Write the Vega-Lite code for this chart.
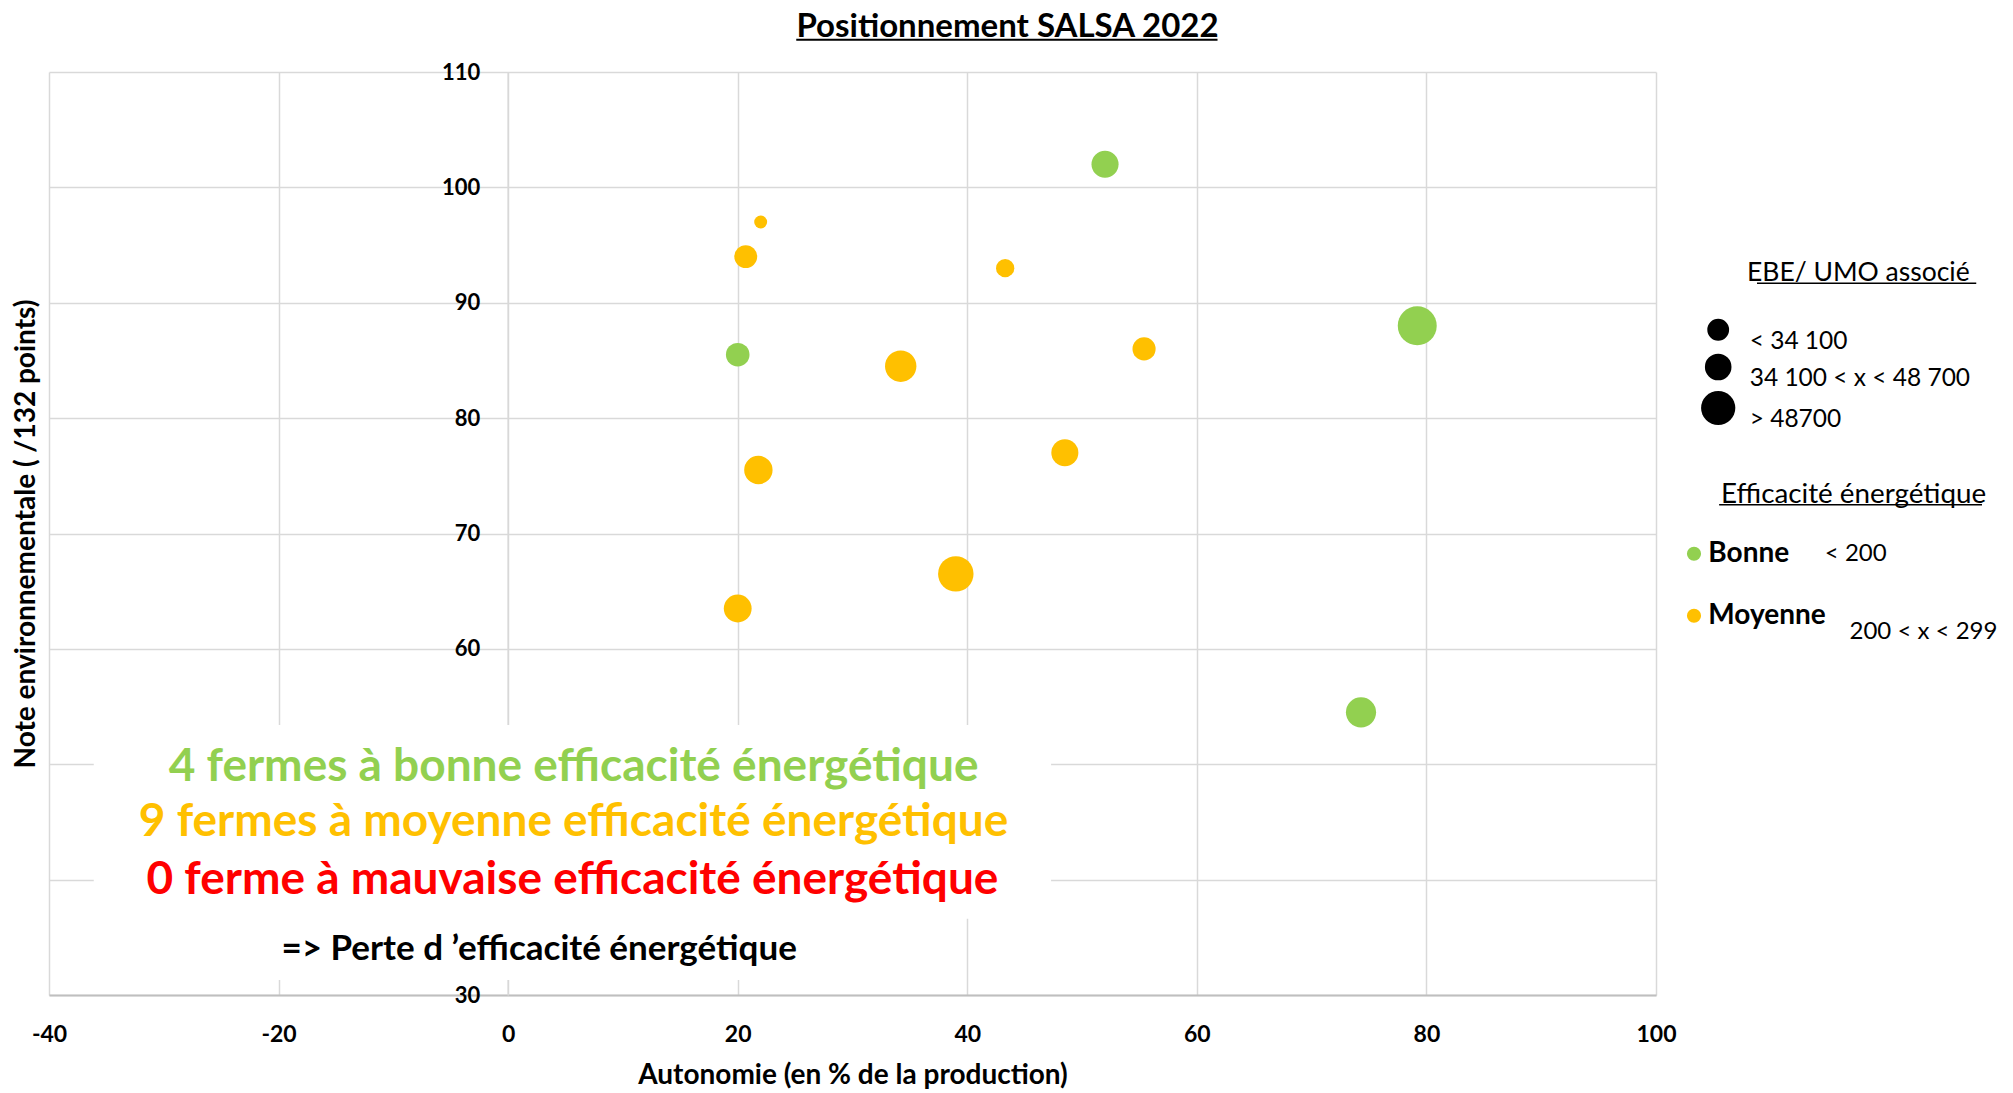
{
  "$schema": "https://vega.github.io/schema/vega-lite/v6.json",
  "width": 1607,
  "height": 923,
  "autosize": {"type": "none"},
  "padding": {"left": 49, "top": 72, "right": 357, "bottom": 98},
  "background": "white",
  "config": {
    "font": "Lato",
    "view": {"stroke": null},
    "legend": {"padding": 0}
  },
  "title": {
    "text": "Positionnement SALSA 2022",
    "font": "Lato",
    "fontSize": 33,
    "fontWeight": "bold",
    "color": "black",
    "anchor": "middle",
    "frame": "group",
    "dx": 155,
    "offset": -5
  },
  "data": {
    "values": [
      {"autonomie": 22.0, "note": 97.0, "ebe": 8000, "efficacite": "Moyenne"},
      {"autonomie": 20.7, "note": 94.0, "ebe": 25000, "efficacite": "Moyenne"},
      {"autonomie": 43.3, "note": 93.0, "ebe": 16000, "efficacite": "Moyenne"},
      {"autonomie": 20.0, "note": 85.5, "ebe": 26500, "efficacite": "Bonne"},
      {"autonomie": 34.2, "note": 84.5, "ebe": 47000, "efficacite": "Moyenne"},
      {"autonomie": 55.4, "note": 86.0, "ebe": 25500, "efficacite": "Moyenne"},
      {"autonomie": 48.5, "note": 77.0, "ebe": 35000, "efficacite": "Moyenne"},
      {"autonomie": 21.8, "note": 75.5, "ebe": 38500, "efficacite": "Moyenne"},
      {"autonomie": 39.0, "note": 66.5, "ebe": 60000, "efficacite": "Moyenne"},
      {"autonomie": 20.0, "note": 63.5, "ebe": 37000, "efficacite": "Moyenne"},
      {"autonomie": 52.0, "note": 102.0, "ebe": 35000, "efficacite": "Bonne"},
      {"autonomie": 79.2, "note": 88.0, "ebe": 72500, "efficacite": "Bonne"},
      {"autonomie": 74.3, "note": 54.5, "ebe": 43500, "efficacite": "Bonne"}
    ]
  },
  "layer": [
    {
      "mark": {"type": "point", "filled": true, "opacity": 1, "shape": "circle"},
      "encoding": {
        "x": {
          "field": "autonomie",
          "type": "quantitative",
          "scale": {"domain": [-40, 100], "nice": false, "zero": false},
          "axis": {
            "title": "Autonomie (en % de la production)",
            "values": [-40, -20, 0, 20, 40, 60, 80, 100],
            "labelExpr": "'' + datum.value",
            "labelFlush": false,
            "ticks": false,
            "tickSize": 0,
            "labelPadding": 28,
            "labelFont": "Lato",
            "labelFontSize": 23,
            "labelFontWeight": "bold",
            "labelColor": "black",
            "domainColor": "#bfbfbf",
            "domainWidth": 2,
            "grid": true,
            "gridColor": "#d9d9d9",
            "gridWidth": 1.5,
            "titleFont": "Lato",
            "titleFontSize": 28,
            "titleFontWeight": "bold",
            "titleColor": "black",
            "titlePadding": 15
          }
        },
        "y": {
          "field": "note",
          "type": "quantitative",
          "scale": {"domain": [30, 110], "nice": false, "zero": false},
          "axis": {
            "title": "Note environnementale ( /132 points)",
            "values": [30, 40, 50, 60, 70, 80, 90, 100, 110],
            "labelExpr": "datum.value == 40 || datum.value == 50 ? '' : datum.label",
            "offset": -458.7,
            "ticks": false,
            "tickSize": 0,
            "labelPadding": 28,
            "labelFont": "Lato",
            "labelFontSize": 22,
            "labelFontWeight": "bold",
            "labelColor": "black",
            "domainColor": "#d9d9d9",
            "domainWidth": 1.5,
            "grid": true,
            "gridColor": "#d9d9d9",
            "gridWidth": 1.5,
            "titleFont": "Lato",
            "titleFontSize": 28,
            "titleFontWeight": "bold",
            "titleColor": "black",
            "titleX": -481.7,
            "titleY": 461.5,
            "titleAngle": -90,
            "titleAlign": "center",
            "titleBaseline": "middle"
          }
        },
        "color": {
          "field": "efficacite",
          "type": "nominal",
          "scale": {"domain": ["Bonne", "Moyenne"], "range": ["#92D050", "#FFC000"]},
          "legend": {
            "title": "Efficacité énergétique",
            "orient": "none",
            "legendX": 1672,
            "legendY": 409,
            "titleFont": "Lato",
            "titleFontSize": 27.8,
            "titleFontWeight": "normal",
            "titleColor": "black",
            "titleLimit": 400,
            "titlePadding": 31,
            "labelFont": "Lato",
            "labelFontSize": 28,
            "labelFontWeight": "bold",
            "labelColor": "black",
            "labelLimit": 400,
            "labelOffset": 0.3,
            "symbolOffset": -41,
            "symbolType": "circle",
            "symbolSize": 200,
            "symbolStrokeWidth": 0,
            "symbolOpacity": 1,
            "rowPadding": 34
          }
        },
        "size": {
          "field": "ebe",
          "type": "quantitative",
          "scale": {"domain": [0, 100000], "range": [0, 2094], "zero": true},
          "legend": {
            "title": "EBE/ UMO associé",
            "orient": "none",
            "legendX": 1651.7,
            "legendY": 188,
            "values": [22700, 33750, 55900],
            "labelExpr": "datum.value < 30000 ? '< 34 100' : (datum.value < 50000 ? '34 100 < x < 48 700' : '> 48700')",
            "titleFont": "Lato",
            "titleFontSize": 26.5,
            "titleFontWeight": "normal",
            "titleColor": "black",
            "titleAnchor": "end",
            "titleLimit": 400,
            "titlePadding": 31,
            "labelFont": "Lato",
            "labelFontSize": 24.5,
            "labelColor": "black",
            "labelLimit": 400,
            "labelBaseline": "top",
            "labelOffset": 14,
            "symbolType": "circle",
            "symbolFillColor": "black",
            "symbolStrokeColor": "black",
            "symbolStrokeWidth": 0,
            "symbolOpacity": 1,
            "rowPadding": -3
          }
        }
      }
    },
    {
      "data": {"values": [{}]},
      "mark": {"type": "rect", "fill": "white", "stroke": null},
      "encoding": {
        "x": {"datum": -36.1, "type": "quantitative"},
        "x2": {"datum": 47.3},
        "y": {"datum": 53.4, "type": "quantitative"},
        "y2": {"datum": 36.6}
      }
    },
    {
      "data": {"values": [{}]},
      "mark": {"type": "rect", "fill": "white", "stroke": null},
      "encoding": {
        "x": {"datum": -23, "type": "quantitative"},
        "x2": {"datum": 33},
        "y": {"datum": 36.7, "type": "quantitative"},
        "y2": {"datum": 31.3}
      }
    },
    {
      "data": {"values": [{}]},
      "mark": {"type": "rule", "color": "black", "strokeWidth": 2},
      "encoding": {
        "x": {"datum": 25.1, "type": "quantitative"},
        "x2": {"datum": 61.8},
        "y": {"datum": 112.8, "type": "quantitative"}
      }
    },
    {
      "data": {"values": [{}]},
      "mark": {"type": "rule", "color": "black", "strokeWidth": 1.5},
      "encoding": {
        "x": {"datum": 108.8, "type": "quantitative"},
        "x2": {"datum": 127.9},
        "y": {"datum": 91.7, "type": "quantitative"}
      }
    },
    {
      "data": {"values": [{}]},
      "mark": {"type": "rule", "color": "black", "strokeWidth": 1.5},
      "encoding": {
        "x": {"datum": 105.5, "type": "quantitative"},
        "x2": {"datum": 128.4},
        "y": {"datum": 72.5, "type": "quantitative"}
      }
    },
    {
      "data": {"values": [{}]},
      "mark": {"type": "text", "text": "4 fermes à bonne efficacité énergétique", "font": "Lato", "fontSize": 46, "fontWeight": "bold", "color": "#92D050", "align": "center", "baseline": "middle"},
      "encoding": {"x": {"datum": 5.7, "type": "quantitative"}, "y": {"datum": 49.8, "type": "quantitative"}}
    },
    {
      "data": {"values": [{}]},
      "mark": {"type": "text", "text": "9 fermes à moyenne efficacité énergétique", "font": "Lato", "fontSize": 46, "fontWeight": "bold", "color": "#FFC000", "align": "center", "baseline": "middle"},
      "encoding": {"x": {"datum": 5.7, "type": "quantitative"}, "y": {"datum": 45.0, "type": "quantitative"}}
    },
    {
      "data": {"values": [{}]},
      "mark": {"type": "text", "text": "0 ferme à mauvaise efficacité énergétique", "font": "Lato", "fontSize": 46, "fontWeight": "bold", "color": "#FF0000", "align": "center", "baseline": "middle"},
      "encoding": {"x": {"datum": 5.6, "type": "quantitative"}, "y": {"datum": 40.0, "type": "quantitative"}}
    },
    {
      "data": {"values": [{}]},
      "mark": {"type": "text", "text": "=> Perte d ’efficacité énergétique", "font": "Lato", "fontSize": 35, "fontWeight": "bold", "color": "black", "align": "center", "baseline": "middle"},
      "encoding": {"x": {"datum": 2.7, "type": "quantitative"}, "y": {"datum": 34.0, "type": "quantitative"}}
    },
    {
      "data": {"values": [{}]},
      "mark": {"type": "text", "text": "< 200", "font": "Lato", "fontSize": 24, "color": "black", "align": "center", "baseline": "middle"},
      "encoding": {"x": {"datum": 117.4, "type": "quantitative"}, "y": {"datum": 68.25, "type": "quantitative"}}
    },
    {
      "data": {"values": [{}]},
      "mark": {"type": "text", "text": "200 < x < 299", "font": "Lato", "fontSize": 24, "color": "black", "align": "center", "baseline": "middle"},
      "encoding": {"x": {"datum": 123.3, "type": "quantitative"}, "y": {"datum": 61.5, "type": "quantitative"}}
    }
  ]
}
